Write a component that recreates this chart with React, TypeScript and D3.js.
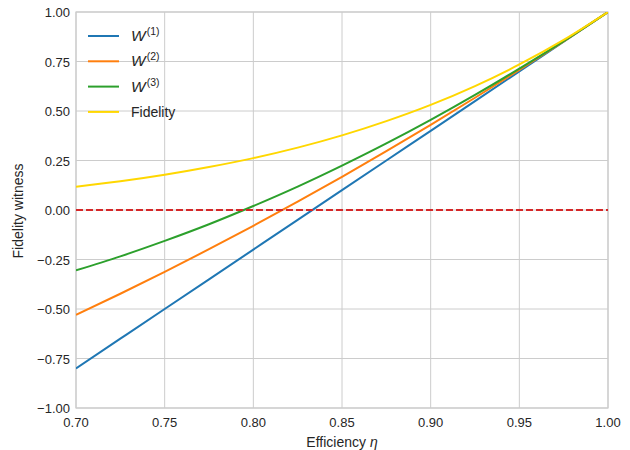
import React from "react";
import * as d3 from "d3";

const eta = [0.7, 0.725, 0.75, 0.775, 0.8, 0.825, 0.85, 0.875, 0.9, 0.925, 0.95, 0.975, 1.0];
const w1 = [-0.8, -0.65, -0.5, -0.35, -0.2, -0.05, 0.1, 0.25, 0.4, 0.55, 0.7, 0.85, 1.0];
const w2 = [-0.53, -0.423, -0.3125, -0.198, -0.08, 0.042, 0.1675, 0.297, 0.43, 0.567, 0.7075, 0.852, 1.0];
const w3 = [-0.305, -0.234, -0.156, -0.072, 0.02, 0.118, 0.224, 0.336, 0.455, 0.581, 0.714, 0.853, 1.0];
const fidelity = [0.118, 0.145, 0.178, 0.217, 0.262, 0.315, 0.377, 0.449, 0.531, 0.626, 0.735, 0.859, 1.0];
const xTicks = [0.7, 0.75, 0.8, 0.85, 0.9, 0.95, 1.0];
const yTicks = [-1, -0.75, -0.5, -0.25, 0, 0.25, 0.5, 0.75, 1];

const series = [
  { sup: "(1)", values: w1, color: "#1f77b4" },
  { sup: "(2)", values: w2, color: "#ff7f0e" },
  { sup: "(3)", values: w3, color: "#2ca02c" },
  { label: "Fidelity", values: fidelity, color: "#ffd700" },
];

const W = 630, H = 450;
const L = 76, R = 608, T = 12, B = 408;

export default function App() {
  const x = d3.scaleLinear().domain([0.7, 1.0]).range([L, R]);
  const y = d3.scaleLinear().domain([-1, 1]).range([B, T]);
  const line = d3
    .line<number>()
    .x((_, i) => x(eta[i]))
    .y((v) => y(v))
    .curve(d3.curveMonotoneX);
  const fmt = (v: number) => (v < 0 ? "\u2212" : "") + Math.abs(v).toFixed(2);
  const font = "'Liberation Sans', Arial, sans-serif";
  const textColor = "#262626";
  return (
    <svg width={W} height={H} style={{ position: "absolute", left: 0, top: 0 }} fontFamily={font}>
      <rect x={0} y={0} width={W} height={H} fill="#fff" />
      <defs>
        <clipPath id="plot">
          <rect x={L} y={T} width={R - L} height={B - T} />
        </clipPath>
      </defs>
      {xTicks.map((t) => (
        <line key={"gx" + t} x1={x(t)} x2={x(t)} y1={T} y2={B} stroke="#cccccc" strokeWidth={1} />
      ))}
      {yTicks.map((t) => (
        <line key={"gy" + t} x1={L} x2={R} y1={y(t)} y2={y(t)} stroke="#cccccc" strokeWidth={1} />
      ))}
      <rect x={L} y={T} width={R - L} height={B - T} fill="none" stroke="#cccccc" strokeWidth={1.2} />
      <g clipPath="url(#plot)">
        {series.map((s, i) => (
          <path key={i} d={line(s.values) || ""} fill="none" stroke={s.color} strokeWidth={2} />
        ))}
        <line x1={L} x2={R} y1={y(0)} y2={y(0)} stroke="#d62728" strokeWidth={2} strokeDasharray="7,3" />
      </g>
      {xTicks.map((t) => (
        <text key={"tx" + t} x={x(t)} y={B + 19} textAnchor="middle" fontSize={13} fill={textColor}>
          {t.toFixed(2)}
        </text>
      ))}
      {yTicks.map((t) => (
        <text key={"ty" + t} x={L - 6} y={y(t) + 5} textAnchor="end" fontSize={13} fill={textColor}>
          {fmt(t)}
        </text>
      ))}
      <text x={(L + R) / 2} y={B + 39} textAnchor="middle" fontSize={14} fill={textColor}>
        Efficiency <tspan fontStyle="italic">η</tspan>
      </text>
      <text
        transform={`translate(${23},${211}) rotate(-90)`}
        textAnchor="middle"
        fontSize={14}
        fill={textColor}
      >
        Fidelity witness
      </text>
      {series.map((s, i) => {
        const ly = 36 + i * 25.3;
        return (
          <g key={"lg" + i}>
            <line x1={88} x2={119} y1={ly} y2={ly} stroke={s.color} strokeWidth={2} />
            {s.label ? (
              <text x={131} y={ly + 5} fontSize={14} fill={textColor}>
                {s.label}
              </text>
            ) : (
              <text x={131} y={ly + 5} fontSize={14} fill={textColor}>
                <tspan fontStyle="italic" fontSize={15.5}>W</tspan>
                <tspan fontSize={10.5} dy={-6} dx={1}>{s.sup}</tspan>
              </text>
            )}
          </g>
        );
      })}
    </svg>
  );
}
